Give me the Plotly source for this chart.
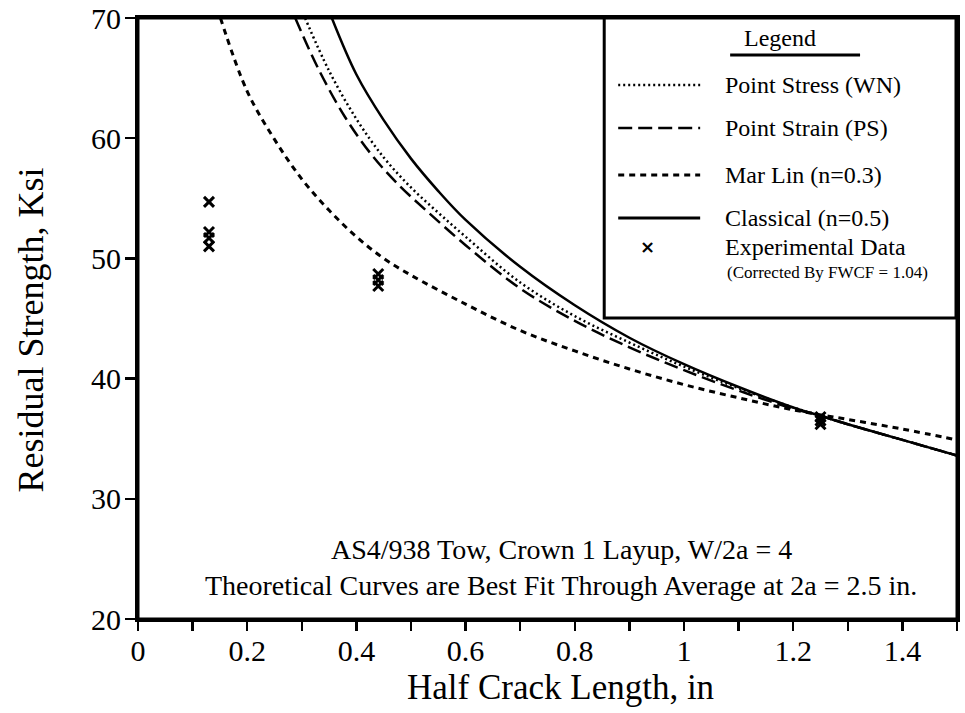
import plotly.graph_objects as go

# ---- data ----
classical_x = [0.355, 0.40, 0.45, 0.50, 0.55, 0.60, 0.70, 0.80, 0.90, 1.00, 1.10, 1.20, 1.25, 1.30, 1.40, 1.50]
classical_y = [70.0, 65.3, 61.5, 58.3, 55.6, 53.2, 49.3, 46.1, 43.4, 41.2, 39.3, 37.6, 36.9, 36.2, 34.9, 33.6]

stress_x = [0.306, 0.35, 0.40, 0.45, 0.50, 0.55, 0.60, 0.70, 0.80, 0.90, 1.00, 1.10, 1.20, 1.25, 1.30, 1.40, 1.50]
stress_y = [70.0, 65.6, 61.6, 58.4, 55.9, 53.8, 51.8, 48.0, 45.2, 43.0, 41.0, 39.2, 37.6, 36.9, 36.2, 34.9, 33.6]

strain_x = [0.288, 0.33, 0.38, 0.43, 0.48, 0.53, 0.60, 0.70, 0.80, 0.90, 1.00, 1.10, 1.20, 1.25, 1.30, 1.40, 1.50]
strain_y = [70.0, 65.8, 61.7, 58.5, 56.0, 53.9, 51.1, 47.5, 44.8, 42.6, 40.7, 39.0, 37.5, 36.9, 36.2, 34.9, 33.6]

marlin_x = [0.151, 0.20, 0.25, 0.30, 0.35, 0.40, 0.45, 0.50, 0.60, 0.70, 0.80, 0.90, 1.00, 1.10, 1.20, 1.30, 1.40, 1.50]
marlin_y = [70.0, 63.9, 59.9, 56.6, 54.0, 51.8, 50.0, 48.6, 46.2, 44.0, 42.3, 40.8, 39.5, 38.4, 37.4, 36.6, 35.8, 34.9]

exp_x = [0.13, 0.13, 0.13, 0.13, 0.44, 0.44, 0.44, 1.25, 1.25, 1.25]
exp_y = [54.7, 52.2, 51.7, 51.0, 48.7, 48.2, 47.7, 36.8, 36.5, 36.2]

x_ticks = [0, 0.2, 0.4, 0.6, 0.8, 1, 1.2, 1.4]
x_tick_labels = ["0", "0.2", "0.4", "0.6", "0.8", "1", "1.2", "1.4"]
y_ticks = [20, 30, 40, 50, 60, 70]

x_title = "Half Crack Length, in"
y_title = "Residual Strength, Ksi"
legend_title = "Legend"
legend_labels = ["Point Stress (WN)", "Point Strain (PS)", "Mar Lin (n=0.3)",
                 "Classical (n=0.5)", "Experimental Data"]
legend_note = "(Corrected By FWCF = 1.04)"
note_lines = ["AS4/938 Tow, Crown 1 Layup, W/2a = 4",
              "Theoretical Curves are Best Fit Through Average at 2a = 2.5 in."]

FONT = "Liberation Serif, Times New Roman, serif"
BLACK = "black"

fig = go.Figure()
fig.add_trace(go.Scatter(x=marlin_x, y=marlin_y, mode="lines", line_shape="spline",
                         line=dict(color=BLACK, width=3, dash="6px,5px"), name=legend_labels[2]))
fig.add_trace(go.Scatter(x=strain_x, y=strain_y, mode="lines", line_shape="spline",
                         line=dict(color=BLACK, width=2.5, dash="14px,6px"), name=legend_labels[1]))
fig.add_trace(go.Scatter(x=stress_x, y=stress_y, mode="lines", line_shape="spline",
                         line=dict(color=BLACK, width=2.5, dash="2px,3px"), name=legend_labels[0]))
fig.add_trace(go.Scatter(x=classical_x, y=classical_y, mode="lines", line_shape="spline",
                         line=dict(color=BLACK, width=2.5), name=legend_labels[3]))
fig.add_trace(go.Scatter(x=exp_x, y=exp_y, mode="markers",
                         marker=dict(symbol="x-thin", size=10, line=dict(color=BLACK, width=3)),
                         name=legend_labels[4]))

# ---- page geometry (the page body margin is removed by the post script below) ----
W, H = 965, 713
L, R, T, B = 137.5, 8, 18, 94
pw, ph = W - L - R, H - T - B

def px(xs):  # screen pixel -> paper x
    return (xs - L) / pw

def py(ys):  # screen pixel -> paper y
    return 1 - (ys - T) / ph

# ---- plot frame + custom legend box ----
shapes = [dict(type="rect", xref="paper", yref="paper", x0=0, x1=1, y0=0, y1=1,
               line=dict(color=BLACK, width=3), layer="above")]
shapes.append(dict(type="rect", xref="paper", yref="paper", x0=px(604), x1=px(956), y0=py(318), y1=py(18),
                   line=dict(color=BLACK, width=3), fillcolor="white", layer="above"))
shapes.append(dict(type="line", xref="paper", yref="paper", x0=px(730), x1=px(860), y0=py(55), y1=py(55),
                   line=dict(color=BLACK, width=3), layer="above"))
sample_rows = [(85, "2px,3px", 2.5), (128, "14px,6px", 2.5), (175, "6px,5px", 3), (218, "solid", 3)]
for yy, dash, wdt in sample_rows:
    shapes.append(dict(type="line", xref="paper", yref="paper", x0=px(618), x1=px(700), y0=py(yy), y1=py(yy),
                       line=dict(color=BLACK, width=wdt, dash=dash), layer="above"))

annotations = [dict(xref="paper", yref="paper", x=px(780), y=py(38), text=legend_title, showarrow=False,
                    font=dict(family=FONT, size=24, color=BLACK), xanchor="center", yanchor="middle")]
row_y = [85, 128, 175, 218, 247]
for lab, yy in zip(legend_labels, row_y):
    annotations.append(dict(xref="paper", yref="paper", x=px(723), y=py(yy), text=lab, showarrow=False,
                            font=dict(family=FONT, size=24, color=BLACK), xanchor="left", yanchor="middle"))
annotations.append(dict(xref="paper", yref="paper", x=px(647), y=py(246), text="<b>×</b>", showarrow=False,
                        font=dict(family="DejaVu Sans", size=18, color=BLACK), xanchor="center", yanchor="middle"))
annotations.append(dict(xref="paper", yref="paper", x=px(725), y=py(272), text=legend_note, showarrow=False,
                        font=dict(family=FONT, size=17, color=BLACK), xanchor="left", yanchor="middle"))
# notes inside the plot
annotations.append(dict(xref="paper", yref="paper", x=px(561), y=py(549), text=note_lines[0], showarrow=False,
                        font=dict(family=FONT, size=28, color=BLACK), xanchor="center", yanchor="middle"))
annotations.append(dict(xref="paper", yref="paper", x=px(561), y=py(585), text=note_lines[1], showarrow=False,
                        font=dict(family=FONT, size=28, color=BLACK), xanchor="center", yanchor="middle"))
# axis titles
annotations.append(dict(xref="paper", yref="paper", x=px(560), y=py(688), text=x_title, showarrow=False,
                        font=dict(family=FONT, size=35, color=BLACK), xanchor="center", yanchor="middle"))
annotations.append(dict(xref="paper", yref="paper", x=px(30), y=py(330), text=y_title, showarrow=False,
                        textangle=-90,
                        font=dict(family=FONT, size=36, color=BLACK), xanchor="center", yanchor="middle"))

fig.update_layout(
    width=W, height=H,
    margin=dict(l=L, r=R, t=T, b=B, autoexpand=False),
    paper_bgcolor="white", plot_bgcolor="white",
    showlegend=False, hovermode=False,
    shapes=shapes, annotations=annotations,
    font=dict(family=FONT, color=BLACK),
)
fig.update_xaxes(range=[0, 1.5], tickvals=x_ticks, ticktext=x_tick_labels, automargin=False,
                 ticks="outside", ticklen=9, tickwidth=2.5, tickcolor=BLACK,
                 ticklabeloverflow="allow", ticklabelstandoff=-6,
                 minor=dict(dtick=0.1, tick0=0, ticks="outside", ticklen=9, tickwidth=2.5, tickcolor=BLACK, showgrid=False),
                 showgrid=False, zeroline=False, showline=True, linecolor=BLACK, linewidth=3, mirror=True,
                 tickfont=dict(family=FONT, size=30, color=BLACK))
fig.update_yaxes(range=[20, 70], tickvals=y_ticks, automargin=False,
                 ticks="outside", ticklen=10, tickwidth=2.5, tickcolor=BLACK,
                 ticklabeloverflow="allow", ticklabelstandoff=-2,
                 showgrid=False, zeroline=False, showline=True, linecolor=BLACK, linewidth=3, mirror=True,
                 tickfont=dict(family=FONT, size=30, color=BLACK))

fig.write_html("out.html", config={"displayModeBar": False, "staticPlot": True},
               post_script="document.body.style.margin='0';document.body.style.overflow='hidden';")
